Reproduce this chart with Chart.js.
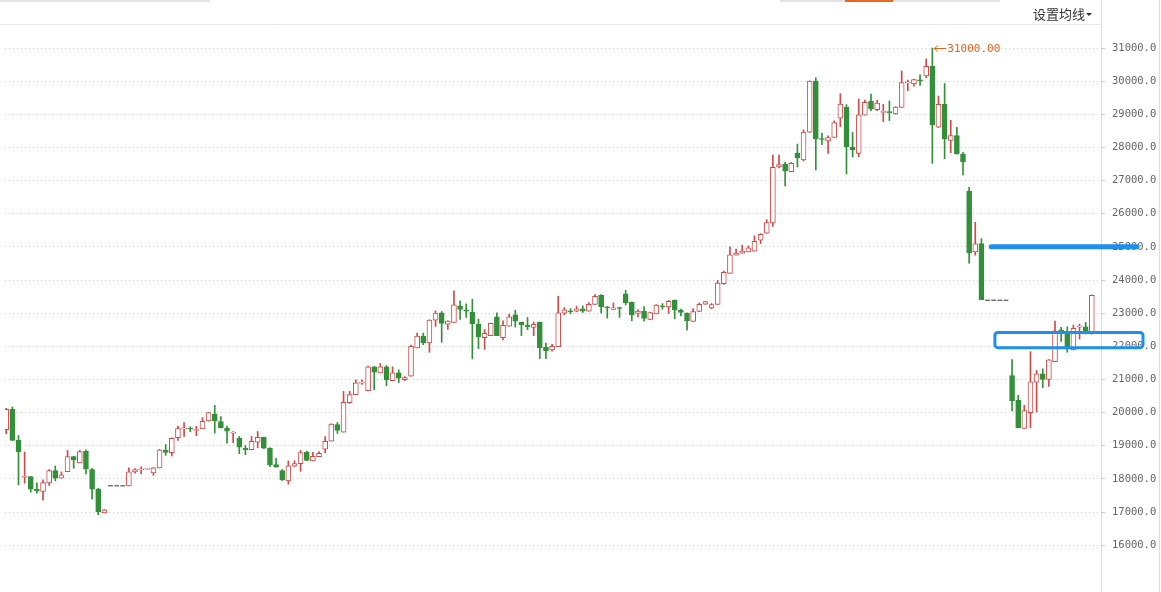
<!DOCTYPE html>
<html>
<head>
<meta charset="utf-8">
<script src="https://cdn.jsdelivr.net/npm/chart.js@4.4.0/dist/chart.umd.min.js"></script>
<style>
  html, body { margin: 0; padding: 0; background: #fff; }
  canvas { display: block; }
</style>
</head>
<body>
<canvas id="kline" width="1161" height="592"></canvas>
<script>
// K线数据 (null = 停牌)
const opens = [19485,20100,19160,18050,18070,17690,17620,17880,18250,18020,18220,18670,18480,18830,18280,17690,16970,null,null,null,
  17790,18210,18270,18295,18180,18330,18860,18790,19240,19510,19530,19460,19510,19750,19950,19730,19530,19380,19220,18920,
  18880,19110,19250,18930,18430,18250,17940,18380,18460,18800,18540,18670,18900,19140,19640,19410,20300,20540,20890,20660,
  21380,21200,21380,20960,21200,20990,21100,21950,22310,22100,22790,23010,22670,22720,23220,23100,23030,22670,22260,22320,
  22890,22260,22610,22950,22720,22640,22570,22720,21980,21890,21990,23000,23060,23060,23130,23060,23260,23540,23190,23110,
  23170,23580,23330,22990,23060,22810,22980,23210,23190,23390,23090,23000,22750,23050,23270,23160,23260,23890,24200,24750,
  24810,24850,24870,25200,25410,25720,27410,27490,27270,27830,27620,28460,30000,28260,28200,28300,28880,29210,28010,27820,
  28970,29390,29140,29060,29070,29010,29210,29950,29920,30030,30160,30450,28610,29300,28210,28360,27790,26680,24850,25100,
  null,null,null,null,21120,20370,19520,20000,20920,21170,21000,21540,22500,22450,21890,22580,22590,22370];
const closes = [20100,19160,18810,18070,17690,17640,17890,18250,18020,18120,18670,18570,18820,18290,17690,17000,17070,null,null,null,
  18210,18280,18300,18310,18330,18880,18800,19220,19520,19530,19500,19490,19740,20000,19750,19540,19440,19400,18960,18880,
  19130,19250,18930,18420,18350,17970,18390,18460,18790,18560,18680,18770,19130,19650,19460,20310,20540,20900,20910,21380,
  21220,21380,20990,21200,21040,21060,22000,22310,22110,22790,23000,22690,22760,23250,23110,23060,22680,22280,22390,22690,
  22320,22630,22890,22760,22650,22590,22660,21960,21870,22000,23010,23100,23040,23130,23060,23270,23510,23190,23160,23160,
  23140,23310,22950,23060,22840,23020,23240,23190,23360,23100,23020,22770,23050,23270,23350,23260,23910,24230,24760,24810,
  24870,24970,25170,25380,25730,27400,27480,27290,27520,27680,28460,30000,28260,28240,28300,28750,29310,28020,27930,28980,
  29360,29160,29340,29080,29050,29220,29960,29970,30050,30010,30450,28680,29300,28260,28360,27810,27570,24820,25090,23410,
  null,null,null,null,20350,19540,20060,20930,21170,21000,21590,22470,22470,21970,22540,22600,22470,23540];
const highs = [20130,20170,19310,18810,18070,17880,17970,18280,18390,18210,18860,18680,18860,18880,18320,17720,17080,null,null,null,
  18330,18310,18360,18320,18340,18890,19040,19240,19590,19700,19570,19590,19850,20010,20220,19880,19590,19430,19280,19010,
  19280,19430,19260,18940,18620,18280,18540,18550,18860,18840,18800,18820,19280,19660,19700,20640,20640,20990,20990,21400,
  21390,21480,21420,21380,21290,21090,22040,22400,22400,22800,23070,23050,22770,23670,23370,23280,23420,22820,22510,22700,
  23010,22770,22970,23090,22730,22870,22730,22730,22100,22060,23510,23170,23140,23210,23220,23320,23560,23560,23200,23310,
  23180,23690,23340,23110,23200,23030,23260,23290,23390,23400,23120,23010,23140,23310,23360,23290,23990,24270,25000,24930,
  25050,25030,25330,25400,25820,27770,27770,27550,27550,28100,28530,30010,30100,28430,28350,28800,29620,29290,28450,29460,
  29430,29610,29420,29300,29400,29230,30310,30030,30060,30190,30670,31000,29550,29930,28820,28610,27850,26800,25740,25250,
  null,null,null,null,21600,20520,20220,21840,21270,21320,21600,22760,22570,22590,22640,22670,22720,23550];
const lows = [19360,19160,17820,17870,17600,17570,17360,17800,17940,18020,18220,18320,18480,18150,17390,16920,16970,null,null,null,
  17790,18170,18150,18290,18110,18330,18710,18690,19160,19280,19420,19300,19510,19740,19380,19540,19080,19090,18760,18730,
  18880,18940,18910,18370,18350,17950,17840,18370,18230,18550,18540,18670,18780,19140,19370,19410,20280,20540,20850,20660,
  20690,21200,20810,20960,20910,20960,21100,21950,22050,21820,22600,22120,22510,22720,22810,22870,21620,21930,21910,22320,
  22320,22190,22610,22580,22320,22500,22320,21630,21630,21850,21990,22950,22980,23040,23020,23060,23260,23000,22850,23110,
  22870,23250,22770,22890,22760,22800,22980,23120,22990,22830,22920,22490,22750,23050,23260,23130,23260,23870,24200,24750,
  24810,24850,24870,25100,25410,25620,27380,26840,27270,27410,27590,28450,27320,28080,27820,28300,28630,27200,27710,27720,
  28970,29110,29110,28780,28810,29000,29210,29710,29850,29870,30100,27520,28600,27660,27840,27800,27170,24510,24750,23410,
  null,null,null,null,20050,19540,19520,19540,20020,20750,20790,21540,22150,21820,21890,22220,22370,22370];

// 停牌日的虚线
const gapSlots = [17, 18, 19, 160, 161, 162, 163];
const gapPrices = [17790, 17790, 17790, 23390, 23390, 23390, 23390];

// 右侧刻度
const yTicks = [16000,17000,18000,19000,20000,21000,22000,23000,24000,25000,26000,27000,28000,29000,30000,31000];

const maxLabel = '31000.00';
const maxPrice = 31000;
const maxSlot = 151;

const upColor = '#d04a4a';
const downColor = '#33903a';
const blue = '#1e8ff0';

const bodies = [];
const wicks = [];
const bodyFill = [];
const bodyLine = [];
for (let i = 0; i < opens.length; i++) {
  if (opens[i] === null) continue;
  const up = closes[i] >= opens[i];
  bodies.push({x: i, y: [opens[i], closes[i]]});
  wicks.push({x: i, y: [lows[i], highs[i]]});
  bodyFill.push(up ? '#ffffff' : downColor);
  bodyLine.push(up ? upColor : downColor);
}
const gaps = gapSlots.map((s, k) => ({x: s, y: gapPrices[k]}));

const decor = {
  id: 'decor',
  beforeDraw(chart) {
    const ctx = chart.ctx;
    const area = chart.chartArea;
    ctx.save();
    ctx.fillStyle = '#ffffff';
    ctx.fillRect(0, 0, chart.width, chart.height);
    // 顶部条
    ctx.fillStyle = '#e2e2e2';
    ctx.fillRect(0, 0, 210, 2);
    ctx.fillRect(780, 0, 220, 2);
    ctx.fillStyle = '#e8691e';
    ctx.fillRect(845, 0, 48, 2);
    ctx.strokeStyle = '#e6e6e6';
    ctx.lineWidth = 1;
    ctx.beginPath();
    ctx.moveTo(0, 24.5);
    ctx.lineTo(area.right, 24.5);
    ctx.stroke();
    // 右侧竖线
    ctx.strokeStyle = '#dddddd';
    ctx.beginPath();
    ctx.moveTo(Math.round(area.right) + 0.5, 0);
    ctx.lineTo(Math.round(area.right) + 0.5, chart.height);
    ctx.moveTo(chart.width - 1.5, 0);
    ctx.lineTo(chart.width - 1.5, chart.height);
    ctx.stroke();
    ctx.restore();
  },
  afterDraw(chart) {
    const ctx = chart.ctx;
    const xs = chart.scales.x;
    const ys = chart.scales.y;
    const area = chart.chartArea;
    ctx.save();

    // 最高价标注
    const hx = xs.getPixelForValue(maxSlot);
    const hy = ys.getPixelForValue(maxPrice);
    ctx.strokeStyle = '#e0661f';
    ctx.fillStyle = '#e0661f';
    ctx.lineWidth = 1;
    ctx.beginPath();
    ctx.moveTo(hx + 2, hy + 0.5);
    ctx.lineTo(hx + 14, hy + 0.5);
    ctx.moveTo(hx + 5, hy - 2.5);
    ctx.lineTo(hx + 2, hy + 0.5);
    ctx.lineTo(hx + 5, hy + 3.5);
    ctx.stroke();
    ctx.font = '11px "DejaVu Sans Mono"';
    ctx.textBaseline = 'middle';
    ctx.textAlign = 'left';
    ctx.fillText(maxLabel, hx + 15, hy + 1);

    // 手绘标记
    ctx.strokeStyle = blue;
    ctx.lineCap = 'round';
    ctx.lineWidth = 5;
    const ly = ys.getPixelForValue(25000);
    ctx.beginPath();
    ctx.moveTo(xs.getPixelForValue(160.6), ly);
    ctx.lineTo(area.right + 36, ly);
    ctx.stroke();

    ctx.lineWidth = 3;
    const bx1 = xs.getPixelForValue(161.2);
    const bx2 = area.right + 42;
    const by1 = ys.getPixelForValue(22420);
    const by2 = ys.getPixelForValue(21960);
    ctx.beginPath();
    ctx.roundRect(bx1, by1, bx2 - bx1, by2 - by1, 3);
    ctx.stroke();

    // 设置均线
    ctx.fillStyle = '#ffffff';
    ctx.fillRect(1028, 3, 66, 20);
    ctx.fillStyle = '#333333';
    ctx.font = '13px "Noto Sans CJK SC"';
    ctx.textBaseline = 'middle';
    ctx.fillText('设置均线', 1033, 14);
    ctx.beginPath();
    ctx.moveTo(1086, 13);
    ctx.lineTo(1092, 13);
    ctx.lineTo(1089, 16);
    ctx.closePath();
    ctx.fill();
    ctx.restore();
  }
};

new Chart(document.getElementById('kline'), {
  type: 'bar',
  data: {
    datasets: [{
      label: 'body',
      data: bodies,
      backgroundColor: bodyFill,
      borderColor: bodyLine,
      borderWidth: 1,
      borderSkipped: false,
      barThickness: 5,
      minBarLength: 1,
      grouped: false,
      order: 1
    }, {
      label: 'wick',
      data: wicks,
      backgroundColor: bodyLine,
      borderWidth: 0,
      barThickness: 1,
      grouped: false,
      order: 2
    }, {
      type: 'line',
      label: 'gap',
      data: gaps,
      showLine: false,
      pointStyle: 'line',
      pointRadius: 2.4,
      pointBorderColor: '#333333',
      pointBorderWidth: 1,
      order: 0
    }]
  },
  options: {
    responsive: false,
    animation: false,
    devicePixelRatio: 1,
    layout: { padding: { top: 25, bottom: 17, left: 0, right: 0 } },
    plugins: { legend: { display: false }, tooltip: { enabled: false } },
    scales: {
      x: {
        type: 'linear',
        display: false,
        offset: false,
        grid: { offset: false },
        min: -0.2,
        max: 178.5
      },
      y: {
        position: 'right',
        min: 15100,
        max: 31694,
        afterFit(scale) { scale.width = 60; },
        afterBuildTicks(scale) { scale.ticks = yTicks.map(v => ({ value: v })); },
        border: { display: false, dash: [1, 3] },
        grid: {
          color: '#d0d0d0',
          tickLength: 4,
          tickColor: '#cccccc',
          tickBorderDash: []
        },
        ticks: {
          padding: 7,
          color: '#666666',
          font: { family: 'DejaVu Sans Mono', size: 10.5 },
          callback: v => v.toFixed(1)
        }
      }
    }
  },
  plugins: [decor]
});
</script>
</body>
</html>
